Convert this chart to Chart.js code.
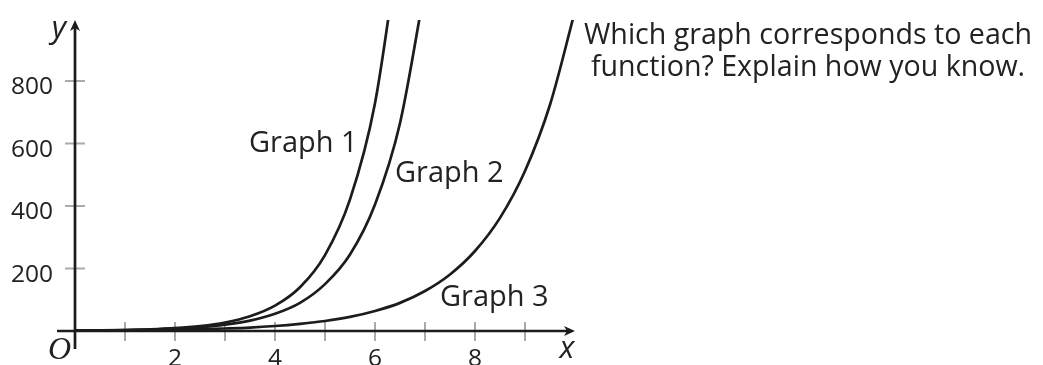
<!DOCTYPE html>
<html>
<head>
<meta charset="utf-8">
<script src="https://cdn.jsdelivr.net/npm/chart.js@4"></script>
<style>
    html, body { margin: 0; padding: 0; background: #fff; }
    #wrap { position: relative; width: 1043px; height: 365px; overflow: hidden; }
    #question {
        position: absolute; left: 575px; top: 17px; width: 466px;
        text-align: center; font-family: 'Open Sans'; font-size: 28.6px;
        line-height: 32px; color: #222;
    }
</style>
</head>
<body>
<div id="wrap">
    <canvas id="graphChart" width="1043" height="365"></canvas>
    <div id="question">Which graph corresponds to each<br>function? Explain how you know.</div>
</div>
<script>
// values
const graph1X = [0, 0.5, 1, 1.5, 2, 2.5, 3, 3.5, 4, 4.5, 5, 5.5, 6, 6.5];
const graph1Y = [1, 1.7, 3, 5.2, 9, 15.6, 27, 47, 81, 140, 243, 421, 729, 1263];

const graph2X = [0, 0.5, 1, 1.5, 2, 2.5, 3, 3.5, 4, 4.5, 5, 5.5, 6, 6.5, 7];
const graph2Y = [1, 1.6, 2.7, 4.5, 7.4, 12, 20, 33, 55, 90, 150, 245, 405, 665, 1100];

const graph3X = [0, 0.5, 1, 1.5, 2, 2.5, 3, 3.5, 4, 4.5, 5, 5.5, 6, 6.5, 7, 7.5, 8, 8.5, 9, 9.5, 10];
const graph3Y = [1, 1.4, 2, 2.8, 4, 5.7, 8, 11, 16, 23, 32, 45, 64, 90, 128, 181, 256, 362, 512, 724, 1024];

const xTicks = [1, 2, 3, 4, 5, 6, 7, 8, 9];
const xTickLabels = [2, 4, 6, 8];
const yTicks = [200, 400, 600, 800];

// curve labels: name, x, y (baseline left corner, in data units)
const curveLabels = [
    ['Graph 1', 3.48, 573],
    ['Graph 2', 6.4, 477],
    ['Graph 3', 7.3, 80]
];

const ink = '#1c1c1c';
const tickGray = '#aaaaaa';

function toPoints(xs, ys) {
    return xs.map((x, i) => ({ x: x, y: ys[i] }));
}

function makeSet(label, xs, ys) {
    return {
        label: label,
        data: toPoints(xs, ys),
        showLine: true,
        borderColor: ink,
        borderWidth: 2.7,
        pointRadius: 0,
        cubicInterpolationMode: 'monotone',
        fill: false
    };
}

// axes, ticks, arrows drawn by hand on top of the library scales
const axesPlugin = {
    id: 'axesPlugin',
    beforeDatasetsDraw(chart) {
        const ctx = chart.ctx;
        const xs = chart.scales.x;
        const ys = chart.scales.y;
        const x0 = xs.getPixelForValue(0);
        const y0 = ys.getPixelForValue(0);
        const area = chart.chartArea;

        ctx.save();
        // tick marks
        ctx.strokeStyle = tickGray;
        ctx.lineWidth = 2;
        xTicks.forEach(v => {
            const px = xs.getPixelForValue(v);
            ctx.beginPath();
            ctx.moveTo(px, y0 - 9);
            ctx.lineTo(px, y0 + 10);
            ctx.stroke();
        });
        yTicks.forEach(v => {
            const py = ys.getPixelForValue(v);
            ctx.beginPath();
            ctx.moveTo(x0 - 10, py);
            ctx.lineTo(x0 + 10, py);
            ctx.stroke();
        });

        // axis lines
        ctx.strokeStyle = ink;
        ctx.lineWidth = 2.7;
        ctx.beginPath();
        ctx.moveTo(area.left, y0);
        ctx.lineTo(area.right - 4, y0);
        ctx.moveTo(x0, area.bottom);
        ctx.lineTo(x0, area.top + 4);
        ctx.stroke();

        // arrow heads
        ctx.fillStyle = ink;
        ctx.beginPath();
        ctx.moveTo(area.right, y0);
        ctx.lineTo(area.right - 11, y0 - 5);
        ctx.lineTo(area.right - 8, y0);
        ctx.lineTo(area.right - 11, y0 + 5);
        ctx.closePath();
        ctx.fill();
        ctx.beginPath();
        ctx.moveTo(x0, area.top);
        ctx.lineTo(x0 - 5, area.top + 11);
        ctx.lineTo(x0, area.top + 8);
        ctx.lineTo(x0 + 5, area.top + 11);
        ctx.closePath();
        ctx.fill();
        ctx.restore();
    },
    afterDraw(chart) {
        const ctx = chart.ctx;
        const xs = chart.scales.x;
        const ys = chart.scales.y;
        const x0 = xs.getPixelForValue(0);
        const y0 = ys.getPixelForValue(0);
        const area = chart.chartArea;

        ctx.save();
        ctx.fillStyle = '#222';
        ctx.font = '24.5px "Open Sans"';
        ctx.textBaseline = 'alphabetic';

        ctx.textAlign = 'right';
        yTicks.forEach(v => {
            ctx.fillText(String(v), x0 - 22, ys.getPixelForValue(v) + 13);
        });
        ctx.textAlign = 'center';
        xTickLabels.forEach(v => {
            ctx.fillText(String(v), xs.getPixelForValue(v), y0 + 35);
        });

        ctx.font = '29px "Open Sans"';
        ctx.textAlign = 'left';
        curveLabels.forEach(l => {
            ctx.fillText(l[0], xs.getPixelForValue(l[1]), ys.getPixelForValue(l[2]));
        });

        // axis names and origin
        ctx.font = 'italic 31px "Open Sans"';
        ctx.textAlign = 'right';
        ctx.fillText('y', x0 - 9, area.top + 18);
        ctx.textAlign = 'center';
        ctx.fillText('x', area.right - 8, y0 + 27);
        ctx.font = 'italic 32px "Liberation Serif"';
        ctx.textAlign = 'right';
        ctx.fillText('O', x0 - 4, y0 + 28);
        ctx.restore();
    }
};

const chart = new Chart(document.getElementById('graphChart').getContext('2d'), {
    type: 'scatter',
    data: {
        datasets: [
            makeSet('Graph 1', graph1X, graph1Y),
            makeSet('Graph 2', graph2X, graph2Y),
            makeSet('Graph 3', graph3X, graph3Y)
        ]
    },
    options: {
        responsive: false,
        animation: false,
        devicePixelRatio: 1,
        layout: { padding: { left: 57, right: 468, top: 20, bottom: 16 } },
        scales: {
            x: { type: 'linear', min: -0.36, max: 10, display: false },
            y: { type: 'linear', min: -57.6, max: 995.2, display: false }
        },
        plugins: {
            legend: { display: false },
            tooltip: { enabled: false }
        }
    },
    plugins: [axesPlugin]
});
</script>
</body>
</html>
